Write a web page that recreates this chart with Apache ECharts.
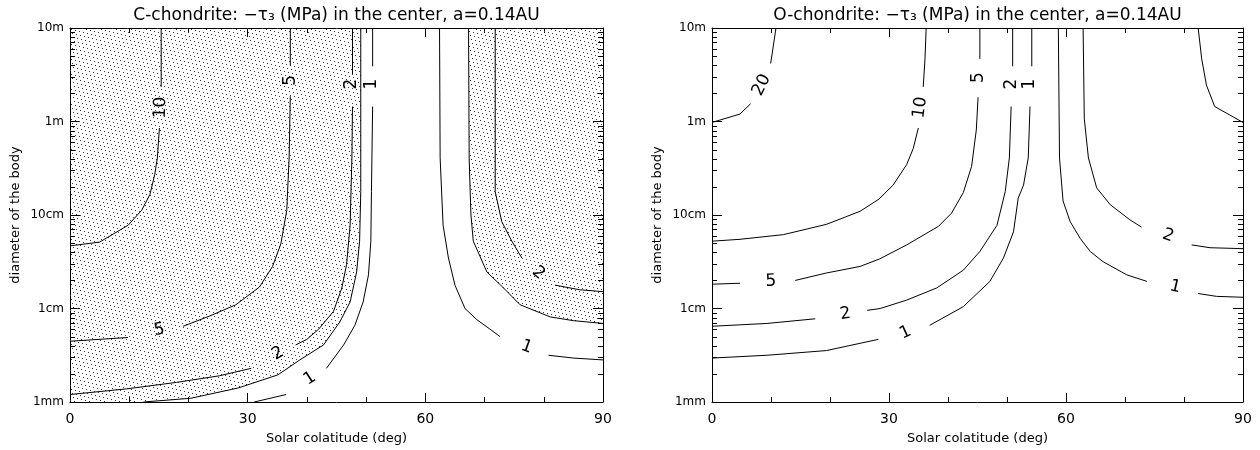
<!DOCTYPE html>
<html><head><meta charset="utf-8">
<script src="https://cdn.jsdelivr.net/npm/echarts@6/dist/echarts.min.js"></script>
<style>html,body{margin:0;padding:0;background:#fff}#c{width:1260px;height:450px}</style>
</head><body><div id="c"></div>
<script>
// x: solar colatitude (deg); y: diameter of the body, stored as log10(metres)
const X_TICKS = [0, 30, 60, 90];
const Y_TICK_LABELS = {'-3': '1mm', '-2': '1cm', '-1': '10cm', '0': '1m', '1': '10m'};
const Y_MINOR_TICKS = [0.002,0.003,0.004,0.005,0.006,0.007,0.008,0.009,
  0.02,0.03,0.04,0.05,0.06,0.07,0.08,0.09,
  0.2,0.3,0.4,0.5,0.6,0.7,0.8,0.9,
  2,3,4,5,6,7,8,9];
const TITLES = ['C-chondrite: \u2212\u03c4\u2083 (MPa) in the center, a=0.14AU',
                'O-chondrite: \u2212\u03c4\u2083 (MPa) in the center, a=0.14AU'];
const X_NAME = 'Solar colatitude (deg)';
const Y_NAME = 'diameter of the body';

// ---- C-chondrite contours (segments broken where labels sit) ----
const C_10 = [
  [[15.4,1],[15.4,0.37]],
  [[15.1,-0.07],[14.75,-0.39],[14.3,-0.57],[13.5,-0.78],[12.1,-0.95],[9.8,-1.11],[5.0,-1.29],[0,-1.33]]
];
const C_5 = [
  [[37.2,1],[37.2,0.60]],
  [[37.2,0.27],[37.0,-0.39],[36.6,-0.95],[35.6,-1.31],[34.2,-1.55],[32.0,-1.77],[28.0,-1.96],[23.6,-2.08],[19.1,-2.19]],
  [[9.8,-2.31],[0,-2.35]]
];
const C_2 = [
  [[47.7,1],[47.7,0.50]],
  [[47.7,0.16],[47.6,-0.39],[47.3,-1.11],[46.7,-1.53],[45.9,-1.78],[44.5,-2.03],[42.0,-2.22],[40.0,-2.33],[38.1,-2.39]],
  [[30.6,-2.64],[25.2,-2.72],[18.0,-2.79],[9.5,-2.86],[0,-2.92]],
  [[71.8,1],[71.8,-0.75],[72.9,-1.07],[74.6,-1.28],[76.3,-1.46]],
  [[81.9,-1.75],[86.1,-1.80],[90,-1.82]]
];
const C_1 = [
  [[51.1,1],[51.1,0.59]],
  [[51.1,0.16],[50.9,-0.75],[50.8,-1.28],[50.4,-1.64],[49.5,-1.93],[48.1,-2.18],[46.2,-2.39],[43.3,-2.64]],
  [[36.5,-2.92],[31.1,-3.0]],
  [[62.4,1],[62.5,-0.39],[63.0,-1.11],[63.9,-1.46],[65.0,-1.75],[66.7,-2.0],[68.7,-2.12],[70.9,-2.22],[72.6,-2.30]],
  [[80.8,-2.50],[85.0,-2.53],[90,-2.55]]
];
// boundary of the dotted (shaded) zones
const C_EDGE_LEFT = [[49.1,1],[49.1,-0.75],[48.9,-1.28],[48.4,-1.61],[47.3,-1.93],[45.6,-2.14],[42.8,-2.39],[38.8,-2.55],[35.1,-2.71],[28.4,-2.85],[20.4,-2.96],[12.4,-3]];
const C_EDGE_RIGHT = [[67.3,1],[67.4,-0.4],[67.7,-1.0],[68.1,-1.28],[70.4,-1.61],[73.2,-1.78],[76.0,-1.96],[81.1,-2.09],[85.0,-2.13],[90,-2.16]];
// [deg, log10 d, text, rotation]
const C_LABELS = [
  [15.3,0.15,'10',88],[37.2,0.44,'5',90],[15.1,-2.23,'5',10],
  [47.6,0.40,'2',90],[35.1,-2.48,'2',30],[79.1,-1.62,'2',-40],
  [51.0,0.40,'1',90],[40.5,-2.75,'1',33],[77.1,-2.41,'1',-20]
];

// ---- O-chondrite contours ----
const O_20 = [
  [[10.85,1],[9.94,0.62]],
  [[6.55,0.19],[4.75,0.08],[0,-0.01]],
  [[82.4,1],[83.0,0.67],[83.8,0.39],[85.2,0.16],[90,-0.01]]
];
const O_10 = [
  [[36.3,1],[36.1,0.67],[35.8,0.37]],
  [[34.97,-0.07],[34.1,-0.29],[33.0,-0.46],[30.7,-0.68],[28.3,-0.83],[25.1,-0.96],[19.4,-1.10],[12.1,-1.21],[4.75,-1.26],[0,-1.28]]
];
const O_5 = [
  [[45.4,1],[45.4,0.67]],
  [[45.1,0.26],[44.8,-0.09],[44.0,-0.48],[42.6,-0.76],[40.6,-0.98],[38.4,-1.12],[33.0,-1.32],[28.4,-1.47],[25.1,-1.55],[19.4,-1.62],[14.1,-1.70]],
  [[4.75,-1.73],[0,-1.74]]
];
const O_2 = [
  [[50.96,1],[50.96,0.59]],
  [[50.7,0.16],[50.4,-0.39],[49.7,-0.75],[48.3,-1.11],[45.4,-1.39],[42.6,-1.59],[38.1,-1.78],[33.0,-1.91],[28.5,-2.0],[26.3,-2.02]],
  [[17.5,-2.11],[9.3,-2.16],[0,-2.19]],
  [[62.9,1],[63.1,0.03],[63.8,-0.39],[65.2,-0.71],[67.5,-0.89],[70.8,-1.05],[72.8,-1.13]],
  [[81.3,-1.32],[84.4,-1.35],[90,-1.36]]
];
const O_1 = [
  [[54.2,1],[54.2,0.59]],
  [[53.9,0.16],[53.6,-0.39],[52.8,-0.68],[51.9,-0.82],[51.1,-1.18],[49.4,-1.46],[47.1,-1.71],[42.6,-1.98],[36.9,-2.18]],
  [[28.2,-2.33],[19.4,-2.45],[9.3,-2.50],[0,-2.53]],
  [[58.7,1],[58.9,-0.39],[59.5,-0.85],[60.7,-1.07],[62.4,-1.25],[64.1,-1.39],[66.3,-1.50],[70.3,-1.64],[73.7,-1.71]],
  [[82.4,-1.84],[85.5,-1.87],[90,-1.88]]
];
const O_LABELS = [
  [8.42,0.39,'20',63],[35.3,0.15,'10',83],[45.2,0.47,'5',90],[10.0,-1.71,'5',3],
  [50.7,0.40,'2',90],[22.6,-2.06,'2',9],[77.3,-1.22,'2',-20],
  [53.9,0.40,'1',90],[32.8,-2.26,'1',25],[78.5,-1.77,'1',-13]
];

// ---------------- chart ----------------
const FONT = '"DejaVu Sans", sans-serif';
const toD = p => [p[0], Math.pow(10, p[1])];

const tile = document.createElement('canvas');
tile.width = 15; tile.height = 15;
(function () {
  const g = tile.getContext('2d');
  g.fillStyle = '#3a3a3a';
  for (let i = 0; i < 15; i++) g.fillRect((4 * i) % 15, i, 1, 1);
})();
const DOTS = {image: tile, repeat: 'repeat'};

const GRIDS = [
  {left: 70, right: 657, top: 28, bottom: 48},
  {left: 712, right: 17, top: 28, bottom: 48}
];

function xAxes(gi) {
  const base = {
    gridIndex: gi, type: 'value', min: 0, max: 90, interval: 30,
    axisLine: {show: true, onZero: false, lineStyle: {color: '#000', width: 1}},
    axisTick: {show: true, inside: true, length: 9, lineStyle: {color: '#000'}},
    minorTick: {show: true, splitNumber: 3, length: 5, lineStyle: {color: '#000'}},
    splitLine: {show: false}, minorSplitLine: {show: false}
  };
  return [
    Object.assign({}, base, {
      position: 'bottom',
      axisLabel: {color: '#000', fontSize: 14, fontFamily: FONT, margin: 10,
        formatter: v => X_TICKS.indexOf(v) >= 0 ? String(v) : ''},
      name: X_NAME, nameLocation: 'middle', nameGap: 30,
      nameTextStyle: {color: '#000', fontSize: 13, fontFamily: FONT}
    }),
    Object.assign({}, base, {position: 'top', axisLabel: {show: false}})
  ];
}
function yAxes(gi) {
  const base = {
    gridIndex: gi, type: 'log', logBase: 10, min: 0.001, max: 10,
    axisLine: {show: true, onZero: false, lineStyle: {color: '#000', width: 1}},
    axisTick: {show: true, inside: true, length: 10, lineStyle: {color: '#000'}},
    splitLine: {show: false}
  };
  return [
    Object.assign({}, base, {
      position: 'left',
      axisLabel: {color: '#000', fontSize: 12, fontFamily: FONT, margin: 6,
        formatter: v => Y_TICK_LABELS[String(Math.round(Math.log10(v)))] || ''},
      name: Y_NAME, nameLocation: 'middle', nameGap: 48, nameRotate: 90,
      nameTextStyle: {color: '#000', fontSize: 13, fontFamily: FONT}
    }),
    Object.assign({}, base, {position: 'right', axisLabel: {show: false}})
  ];
}

const series = [];
function addContours(levels, xi, yi) {
  levels.forEach(level => level.forEach(seg => {
    series.push({
      type: 'line', xAxisIndex: xi, yAxisIndex: yi, data: seg.map(toD),
      symbol: 'none', showSymbol: false, silent: true, z: 3,
      lineStyle: {color: '#000', width: 1}
    });
  }));
}
function addLabels(labels, xi, yi) {
  series.push({
    type: 'custom', xAxisIndex: xi, yAxisIndex: yi, z: 4, silent: true,
    data: labels.map(l => [l[0], Math.pow(10, l[1])]),
    renderItem: (params, api) => {
      const l = labels[params.dataIndex];
      const p = api.coord([api.value(0), api.value(1)]);
      return {type: 'text', x: p[0], y: p[1], rotation: l[3] * Math.PI / 180,
        style: {text: l[2], fill: '#000', font: '17px ' + FONT, align: 'center', verticalAlign: 'middle'}};
    }
  });
}
function addMinorY(xi, yi) {
  series.push({
    type: 'custom', xAxisIndex: xi, yAxisIndex: yi, z: 5, silent: true,
    data: Y_MINOR_TICKS.map(v => [0, v]),
    renderItem: (params, api) => {
      const v = api.value(1);
      const a = api.coord([0, v]), b = api.coord([90, v]);
      const y = Math.round(a[1]) + 0.5;
      return {type: 'group', children: [
        {type: 'line', shape: {x1: a[0], y1: y, x2: a[0] + 5, y2: y}, style: {stroke: '#000', lineWidth: 1}},
        {type: 'line', shape: {x1: b[0] - 5, y1: y, x2: b[0], y2: y}, style: {stroke: '#000', lineWidth: 1}}
      ]};
    }
  });
}
function addShade(polys, xi, yi) {
  series.push({
    type: 'custom', xAxisIndex: xi, yAxisIndex: yi, z: 1, silent: true,
    data: polys.map(() => [45, 1]),
    renderItem: (params, api) => {
      const poly = polys[params.dataIndex];
      return {type: 'polygon', shape: {points: poly.map(q => api.coord(toD(q)))},
        style: {fill: DOTS, stroke: null}};
    }
  });
}

addShade([
  [[0,1]].concat(C_EDGE_LEFT, [[0,-3]]),
  C_EDGE_RIGHT.concat([[90,1]])
], 0, 0);
addContours([C_10, C_5, C_2, C_1, [C_EDGE_LEFT, C_EDGE_RIGHT]], 0, 0);
addLabels(C_LABELS, 0, 0);
addMinorY(0, 0);

addContours([O_20, O_10, O_5, O_2, O_1], 2, 2);
addLabels(O_LABELS, 2, 2);
addMinorY(2, 2);

const chart = echarts.init(document.getElementById('c'), null, {renderer: 'canvas'});
chart.setOption({
  animation: false,
  backgroundColor: '#fff',
  grid: GRIDS,
  xAxis: xAxes(0).concat(xAxes(1)),
  yAxis: yAxes(0).concat(yAxes(1)),
  graphic: [
    {type: 'text', x: 336.5, y: 16, style: {text: TITLES[0], fill: '#000', font: '17px ' + FONT, align: 'center', verticalAlign: 'middle'}},
    {type: 'text', x: 977.5, y: 16, style: {text: TITLES[1], fill: '#000', font: '17px ' + FONT, align: 'center', verticalAlign: 'middle'}}
  ],
  series: series
});
</script>
</body></html>
